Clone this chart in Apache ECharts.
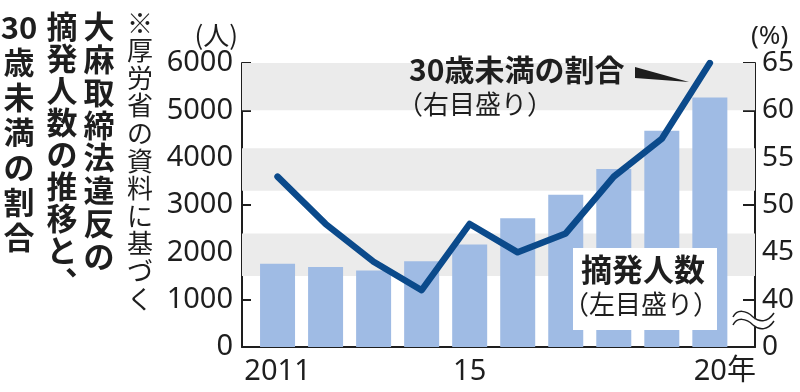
<!DOCTYPE html>
<html><head><meta charset="utf-8">
<script src="https://cdn.jsdelivr.net/npm/echarts@6/dist/echarts.min.js"></script>
<style>html,body{margin:0;padding:0;background:#fff}#c{width:800px;height:392px}</style>
</head><body><div id="c"></div>
<script>
// ---- data ----
const years = [2011, 2012, 2013, 2014, 2015, 2016, 2017, 2018, 2019, 2020];
const arrests = [1759, 1692, 1616, 1813, 2167, 2722, 3218, 3762, 4570, 5270];
const under30Pct = [53, 48, 44, 41, 48, 45, 47, 53, 57, 65];
const xTickYears = [2011, 2015, 2020];
const xTickText = ['2011', '15', '20年'];
const bandRanges = [[1500, 2400], [3300, 4200], [5000, 6000]];

const CJK = "'Noto Sans CJK JP', sans-serif";
const NUM = "'Noto Sans', 'Noto Sans CJK JP', sans-serif";
const INK = '#1e1e1e';

function wave(dy, stroke, lw, z) {
  return [
    {type: 'bezierCurve', z: z, shape: {x1: 733, y1: 317 + dy, cpx1: 737, cpy1: 309 + dy, cpx2: 746, cpy2: 310 + dy, x2: 753, y2: 317 + dy}, style: {stroke: stroke, lineWidth: lw, fill: null}},
    {type: 'bezierCurve', z: z, shape: {x1: 753, y1: 317 + dy, cpx1: 760, cpy1: 323 + dy, cpx2: 768, cpy2: 322 + dy, x2: 774, y2: 313 + dy}, style: {stroke: stroke, lineWidth: lw, fill: null}}
  ];
}

const chart = echarts.init(document.getElementById('c'), null, {renderer: 'canvas'});
const option = {
  animation: false,
  backgroundColor: '#fff',
  grid: {left: 242, right: 45, top: 63, bottom: 45},
  xAxis: {
    type: 'value', min: 2010.26, max: 2020.94,
    axisLine: {show: true, onZero: false, lineStyle: {color: INK, width: 2}},
    axisTick: {show: false},
    splitLine: {show: false},
    axisLabel: {
      customValues: xTickYears,
      margin: 10,
      color: INK, fontFamily: NUM, fontSize: 29,
      formatter: v => {
        const i = xTickYears.indexOf(Math.round(v));
        if (i < 0) return '';
        return i === xTickYears.length - 1 ? '{r|' + xTickText[i] + '}' : xTickText[i];
      },
      rich: {r: {fontFamily: NUM, fontSize: 29, color: INK, padding: [0, 0, 0, 30]}}
    }
  },
  yAxis: [{
    type: 'value', min: 0, max: 6000, interval: 1000,
    name: '(人)', nameLocation: 'end', nameGap: 10,
    nameTextStyle: {fontFamily: CJK, fontSize: 26, color: INK, align: 'right', padding: [0, 4, 0, 0]},
    axisLine: {show: true, lineStyle: {color: INK, width: 2}},
    axisTick: {show: true, inside: true, length: 9, lineStyle: {color: INK, width: 2}},
    splitLine: {show: false},
    axisLabel: {color: INK, fontFamily: NUM, fontSize: 29, margin: 9, formatter: v => String(v)}
  }, {
    type: 'value', min: 35, max: 65, interval: 5, position: 'right',
    name: '(%)', nameLocation: 'end', nameGap: 10,
    nameTextStyle: {fontFamily: NUM, fontSize: 26, color: INK, align: 'left', padding: [0, 0, 0, -4]},
    axisLine: {show: true, lineStyle: {color: INK, width: 2}},
    axisTick: {show: true, inside: true, length: 12, lineStyle: {color: INK, width: 2}},
    splitLine: {show: false},
    axisLabel: {color: INK, fontFamily: NUM, fontSize: 28, margin: 7,
      formatter: v => (v === 35 ? '0' : String(v))}
  }],
  series: [{
    type: 'line', data: [], silent: true, z: 1,
    markArea: {
      silent: true,
      itemStyle: {color: '#ebebeb'},
      data: bandRanges.map(r => [{yAxis: r[0]}, {yAxis: r[1]}])
    }
  }, {
    type: 'bar', z: 2, barWidth: 35,
    itemStyle: {color: '#9fbbe4'},
    data: years.map((y, i) => [y, arrests[i]])
  }, {
    type: 'line', yAxisIndex: 1, z: 5,
    symbol: 'none',
    lineStyle: {color: '#0b4a8b', width: 6.5, join: 'round', cap: 'round'},
    data: years.map((y, i) => [y, under30Pct[i]])
  }],
  graphic: [
    // vertical title columns
    {type: 'text', z: 100, x: 99, y: 10, style: {text: '大\n麻\n取\n締\n法\n違\n反\nの', font: 'bold 31px ' + CJK, fill: INK, lineHeight: 32.8, align: 'center', verticalAlign: 'top'}},
    {type: 'text', z: 100, x: 62, y: 10, style: {text: '摘\n発\n人\n数\nの\n推\n移\nと\n︑', font: 'bold 31px ' + CJK, fill: INK, lineHeight: 32, align: 'center', verticalAlign: 'top'}},
    {type: 'text', z: 100, x: 19, y: 10, style: {text: '30\n歳\n未\n満\nの\n割\n合', font: 'bold 31px ' + CJK, fill: INK, lineHeight: 35, align: 'center', verticalAlign: 'top'}},
    {type: 'text', z: 100, x: 140, y: 9, style: {text: '※\n厚\n労\n省\nの\n資\n料\nに\n基\nづ\nく', font: '26px ' + CJK, fill: INK, lineHeight: 27.6, align: 'center', verticalAlign: 'top'}},
    // line annotation
    {type: 'text', z: 100, x: 409, y: 55, style: {text: '30歳未満の割合', font: 'bold 30px ' + CJK, fill: INK}},
    {type: 'text', z: 100, x: 397, y: 91, style: {text: '（右目盛り）', font: '26px ' + CJK, fill: INK}},
    {type: 'polygon', z: 100, shape: {points: [[635, 67], [689, 82], [635, 78]]}, style: {fill: INK}},
    // bar annotation
    {type: 'rect', z: 90, shape: {x: 573, y: 248, width: 144, height: 82}, style: {fill: '#fff'}},
    {type: 'text', z: 100, x: 581, y: 254, style: {text: '摘発人数', font: 'bold 31px ' + CJK, fill: INK}},
    {type: 'text', z: 100, x: 563, y: 291, style: {text: '（左目盛り）', font: '26px ' + CJK, fill: INK}}
  ].concat(wave(4, '#fff', 7, 99), wave(0, INK, 1.5, 101), wave(8, INK, 1.5, 101))
};
chart.setOption(option);
</script></body></html>
